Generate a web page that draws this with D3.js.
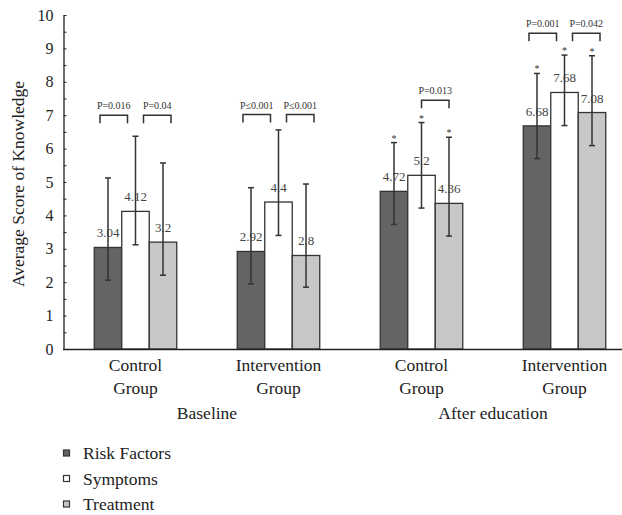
<!doctype html>
<html lang=en>

<head>
  <meta charset=utf-8>
  <title>Average Score of Knowledge</title>
  <style>
    body { margin: 0; background: #fff; }
    text { font-family: "Liberation Serif", "DejaVu Serif", serif; }
  </style>
</head>

<body>
  <svg></svg>
  <script src="https://d3js.org/d3.v7.min.js"></script>
  <script>
    var width = 622;
    var height = 515;

    // data
    var groupNames = ["Control Group", "Intervention Group", "Control Group", "Intervention Group"];
    var phases = ["Baseline", "Baseline", "After education", "After education"];
    var seriesNames = ["Risk Factors", "Symptoms", "Treatment"];

    var riskFactors = [3.04, 2.92, 4.72, 6.68];
    var symptoms = [4.12, 4.4, 5.2, 7.68];
    var treatment = [3.2, 2.8, 4.36, 7.08];

    // error bar ends (lower / upper)
    var riskLow = [2.06, 1.95, 3.73, 5.7];
    var riskHigh = [5.12, 4.83, 6.18, 8.25];
    var symLow = [3.12, 3.4, 4.22, 6.69];
    var symHigh = [6.37, 6.56, 6.78, 8.8];
    var treatLow = [2.21, 1.85, 3.38, 6.09];
    var treatHigh = [5.57, 4.94, 6.34, 8.78];

    // groups marked with * above each bar
    var starred = [false, false, true, true];

    // pairwise comparisons: group index, series a, series b, label, bracket height
    var comparisons = [
      { g: 0, a: 0, b: 1, p: "P=0.016", y: 7.0 },
      { g: 0, a: 1, b: 2, p: "P=0.04", y: 7.0 },
      { g: 1, a: 0, b: 1, p: "P\u22640.001", y: 7.02 },
      { g: 1, a: 1, b: 2, p: "P\u22640.001", y: 7.02 },
      { g: 2, a: 1, b: 2, p: "P=0.013", y: 7.45 },
      { g: 3, a: 0, b: 1, p: "P=0.001", y: 9.45 },
      { g: 3, a: 1, b: 2, p: "P=0.042", y: 9.45 }
    ];

    var yTicks = [0, 1, 2, 3, 4, 5, 6, 7, 8, 9, 10];
    var yMinorTicks = [0.5, 1.5, 2.5, 3.5, 4.5, 5.5, 6.5, 7.5, 8.5, 9.5];

    var colors = ["#646464", "#ffffff", "#c6c7c9"];
    var values = [riskFactors, symptoms, treatment];
    var lows = [riskLow, symLow, treatLow];
    var highs = [riskHigh, symHigh, treatHigh];

    var svg = d3.select("svg")
      .attr("width", width)
      .attr("height", height);

    var x0 = d3.scaleBand()
      .domain(d3.range(groupNames.length))
      .range([64, 636]);

    var x1 = d3.scaleBand()
      .domain(d3.range(seriesNames.length))
      .range([0, 82.5]);

    var y = d3.scaleLinear()
      .domain([0, 10])
      .range([349, 15]);

    function barX(g, s) {
      return x0(g) + x0.bandwidth() / 2 - 41.25 + x1(s);
    }
    function barC(g, s) {
      return barX(g, s) + x1.bandwidth() / 2;
    }

    // y axis
    svg.append("g")
      .attr("transform", "translate(63.5,0)")
      .call(d3.axisLeft(y).tickValues(yTicks).tickSizeInner(-3).tickSizeOuter(0).tickPadding(10))
      .call(function (g) {
        g.selectAll("text").style("font-size", "16px").attr("fill", "#222")
          .style("font-family", "'Liberation Serif', serif");
        g.selectAll("line").attr("stroke", "#222");
        g.select(".domain").attr("stroke", "#222").attr("stroke-width", 1.3);
      });

    svg.append("g")
      .attr("transform", "translate(63.5,0)")
      .call(d3.axisLeft(y).tickValues(yMinorTicks).tickSizeInner(-3).tickSizeOuter(0).tickFormat(""))
      .call(function (g) {
        g.select(".domain").remove();
        g.selectAll("line").attr("stroke", "#222");
      });

    svg.append("text")
      .attr("transform", "translate(24," + 184 + ") rotate(-90)")
      .attr("text-anchor", "middle")
      .style("font-size", "17.5px")
      .attr("fill", "#222")
      .text("Average Score of Knowledge");

    // bars
    seriesNames.forEach(function (name, s) {
      var rows = values[s].map(function (v, g) {
        return { g: g, v: v, lo: lows[s][g], hi: highs[s][g] };
      });

      svg.append("g").selectAll("rect")
        .data(rows)
        .join("rect")
        .attr("x", function (d) { return barX(d.g, s); })
        .attr("y", function (d) { return y(d.v); })
        .attr("width", x1.bandwidth())
        .attr("height", function (d) { return y(0) - y(d.v); })
        .attr("fill", colors[s])
        .attr("stroke", "#333")
        .attr("stroke-width", 1.3);

      // value labels
      svg.append("g").selectAll("text")
        .data(rows)
        .join("text")
        .attr("x", function (d) { return barC(d.g, s); })
        .attr("y", function (d) { return y(d.v) - 10; })
        .attr("text-anchor", "middle")
        .style("font-size", "13px")
        .attr("fill", "#444")
        .text(function (d) { return d.v; });

      // error bars
      var eb = svg.append("g").attr("stroke", "#333").attr("stroke-width", 1.5);
      eb.selectAll(".stem")
        .data(rows)
        .join("line")
        .attr("x1", function (d) { return barC(d.g, s); })
        .attr("x2", function (d) { return barC(d.g, s); })
        .attr("y1", function (d) { return y(d.lo); })
        .attr("y2", function (d) { return y(d.hi); });
      eb.selectAll(".capLo")
        .data(rows)
        .join("line")
        .attr("x1", function (d) { return barC(d.g, s) - 3; })
        .attr("x2", function (d) { return barC(d.g, s) + 3; })
        .attr("y1", function (d) { return y(d.lo); })
        .attr("y2", function (d) { return y(d.lo); });
      eb.selectAll(".capHi")
        .data(rows)
        .join("line")
        .attr("x1", function (d) { return barC(d.g, s) - 3; })
        .attr("x2", function (d) { return barC(d.g, s) + 3; })
        .attr("y1", function (d) { return y(d.hi); })
        .attr("y2", function (d) { return y(d.hi); });

      // stars
      svg.append("g").selectAll("text")
        .data(rows.filter(function (d) { return starred[d.g]; }))
        .join("text")
        .attr("x", function (d) { return barC(d.g, s); })
        .attr("y", function (d) { return y(d.hi) - 1; })
        .attr("text-anchor", "middle")
        .style("font-size", "10px")
        .attr("fill", "#333")
        .text("*");
    });

    // x axis line
    svg.append("line")
      .attr("x1", 63).attr("x2", width)
      .attr("y1", y(0) + 0.5).attr("y2", y(0) + 0.5)
      .attr("stroke", "#222").attr("stroke-width", 1.5);

    // brackets
    var br = svg.append("g");
    comparisons.forEach(function (c) {
      var pairs = comparisons.filter(function (o) { return o.g === c.g; }).length;
      var shift = pairs > 1 ? (c.a === 0 ? -8 : 8) : 0;
      var xa = barC(c.g, c.a) + shift;
      var xb = barC(c.g, c.b) + shift;
      var yt = y(c.y);
      br.append("path")
        .attr("d", "M" + xa + "," + (yt + 8) + "V" + yt + "H" + xb + "V" + (yt + 8))
        .attr("fill", "none")
        .attr("stroke", "#333")
        .attr("stroke-width", 1.5);
      br.append("text")
        .attr("x", (xa + xb) / 2)
        .attr("y", yt - 6)
        .attr("text-anchor", "middle")
        .style("font-size", "10px")
        .attr("fill", "#333")
        .text(c.p);
    });

    // category labels
    var cat = svg.append("g").attr("fill", "#222").style("font-size", "17.5px");
    groupNames.forEach(function (n, g) {
      var parts = n.split(" ");
      cat.append("text")
        .attr("x", x0(g) + x0.bandwidth() / 2)
        .attr("y", 371)
        .attr("text-anchor", "middle")
        .text(parts[0]);
      cat.append("text")
        .attr("x", x0(g) + x0.bandwidth() / 2)
        .attr("y", 394)
        .attr("text-anchor", "middle")
        .text(parts[1]);
    });
    var phaseNames = Array.from(new Set(phases));
    phaseNames.forEach(function (p) {
      var idx = d3.range(phases.length).filter(function (i) { return phases[i] === p; });
      var cx = d3.mean(idx, function (i) { return x0(i) + x0.bandwidth() / 2; });
      cat.append("text")
        .attr("x", cx)
        .attr("y", 419)
        .attr("text-anchor", "middle")
        .text(p);
    });

    // legend
    var legend = svg.append("g");
    seriesNames.forEach(function (n, s) {
      var ly = 453 + s * 25.5;
      legend.append("rect")
        .attr("x", 63.5).attr("y", ly - 3)
        .attr("width", 6).attr("height", 6)
        .attr("fill", colors[s])
        .attr("stroke", "#333")
        .attr("stroke-width", 1.2);
      legend.append("text")
        .attr("x", 83)
        .attr("y", ly + 6)
        .style("font-size", "17.5px")
        .attr("fill", "#222")
        .text(n);
    });
  </script>
</body>

</html>
